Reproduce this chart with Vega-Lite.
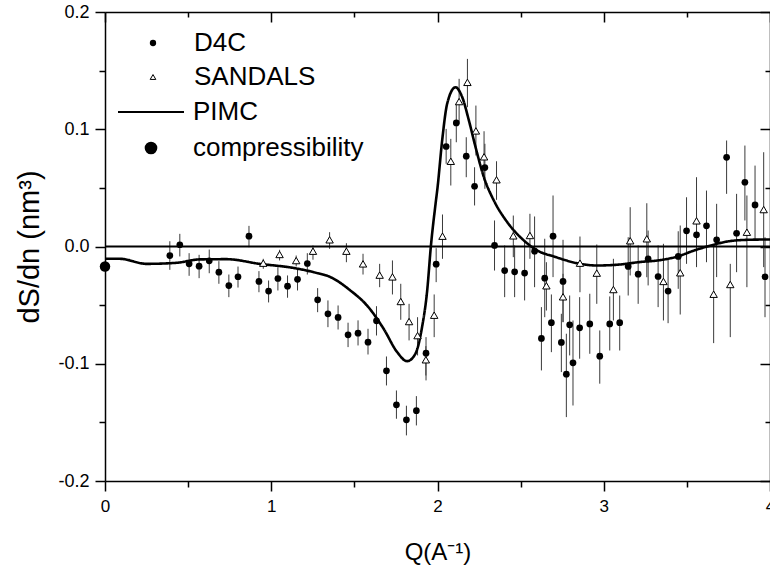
{
  "$schema": "https://vega.github.io/schema/vega-lite/v6.json",
  "width": 665,
  "height": 469,
  "autosize": {"type": "none"},
  "padding": {"left": 105, "top": 12, "right": 0, "bottom": 90},
  "background": "white",
  "config": {
    "view": {"stroke": null},
    "font": "Liberation Sans",
    "axis": {
      "grid": false,
      "domainColor": "black",
      "tickColor": "black",
      "labelColor": "black",
      "titleColor": "black",
      "labelFont": "Liberation Sans",
      "titleFont": "Liberation Sans",
      "titleFontWeight": "normal",
      "domainWidth": 1.5,
      "tickWidth": 1.5,
      "labelOverlap": false,
      "labelFlush": false
    },
    "legend": {
      "orient": "none",
      "title": null,
      "padding": 0,
      "labelFont": "Liberation Sans",
      "labelFontSize": 26,
      "labelColor": "black",
      "labelLimit": 400
    }
  },
  "datasets": {
    "d4c": [
      {"Q": 0.39, "v": -0.0077, "lo": -0.0199, "hi": 0.0045, "series": "D4C"},
      {"Q": 0.45, "v": 0.0015, "lo": -0.0085, "hi": 0.0108, "series": "D4C"},
      {"Q": 0.506, "v": -0.0148, "lo": -0.025, "hi": -0.0057, "series": "D4C"},
      {"Q": 0.566, "v": -0.0168, "lo": -0.027, "hi": -0.0071, "series": "D4C"},
      {"Q": 0.627, "v": -0.0122, "lo": -0.0228, "hi": -0.0026, "series": "D4C"},
      {"Q": 0.685, "v": -0.0219, "lo": -0.0318, "hi": -0.0125, "series": "D4C"},
      {"Q": 0.745, "v": -0.0333, "lo": -0.0432, "hi": -0.0239, "series": "D4C"},
      {"Q": 0.8, "v": -0.0258, "lo": -0.035, "hi": -0.0171, "series": "D4C"},
      {"Q": 0.866, "v": 0.0088, "lo": -0.0006, "hi": 0.0176, "series": "D4C"},
      {"Q": 0.926, "v": -0.0298, "lo": -0.039, "hi": -0.021, "series": "D4C"},
      {"Q": 0.984, "v": -0.038, "lo": -0.0477, "hi": -0.029, "series": "D4C"},
      {"Q": 1.04, "v": -0.0273, "lo": -0.0375, "hi": -0.0176, "series": "D4C"},
      {"Q": 1.098, "v": -0.0338, "lo": -0.0437, "hi": -0.0247, "series": "D4C"},
      {"Q": 1.158, "v": -0.028, "lo": -0.0375, "hi": -0.0196, "series": "D4C"},
      {"Q": 1.217, "v": -0.0145, "lo": -0.0239, "hi": -0.0057, "series": "D4C"},
      {"Q": 1.279, "v": -0.0455, "lo": -0.056, "hi": -0.0355, "series": "D4C"},
      {"Q": 1.341, "v": -0.0574, "lo": -0.0688, "hi": -0.046, "series": "D4C"},
      {"Q": 1.402, "v": -0.0605, "lo": -0.0708, "hi": -0.0503, "series": "D4C"},
      {"Q": 1.462, "v": -0.0753, "lo": -0.0858, "hi": -0.065, "series": "D4C"},
      {"Q": 1.522, "v": -0.0739, "lo": -0.0844, "hi": -0.063, "series": "D4C"},
      {"Q": 1.582, "v": -0.0816, "lo": -0.0921, "hi": -0.0702, "series": "D4C"},
      {"Q": 1.633, "v": -0.0634, "lo": -0.0759, "hi": -0.0509, "series": "D4C"},
      {"Q": 1.693, "v": -0.106, "lo": -0.1185, "hi": -0.0938, "series": "D4C"},
      {"Q": 1.753, "v": -0.135, "lo": -0.1469, "hi": -0.1228, "series": "D4C"},
      {"Q": 1.813, "v": -0.1478, "lo": -0.1611, "hi": -0.1358, "series": "D4C"},
      {"Q": 1.873, "v": -0.14, "lo": -0.1526, "hi": -0.1276, "series": "D4C"},
      {"Q": 1.931, "v": -0.091, "lo": -0.1142, "hi": -0.0773, "series": "D4C"},
      {"Q": 1.992, "v": -0.0151, "lo": -0.0304, "hi": -0.0014, "series": "D4C"},
      {"Q": 2.052, "v": 0.0853, "lo": 0.0705, "hi": 0.1003, "series": "D4C"},
      {"Q": 2.113, "v": 0.1054, "lo": 0.0889, "hi": 0.1217, "series": "D4C"},
      {"Q": 2.173, "v": 0.077, "lo": 0.0591, "hi": 0.0932, "series": "D4C"},
      {"Q": 2.223, "v": 0.0514, "lo": 0.035, "hi": 0.0676, "series": "D4C"},
      {"Q": 2.285, "v": 0.0673, "lo": 0.0492, "hi": 0.0876, "series": "D4C"},
      {"Q": 2.343, "v": 0.0009, "lo": -0.0205, "hi": 0.0222, "series": "D4C"},
      {"Q": 2.404, "v": -0.0205, "lo": -0.0432, "hi": 0.0009, "series": "D4C"},
      {"Q": 2.464, "v": -0.0216, "lo": -0.0432, "hi": 0.0009, "series": "D4C"},
      {"Q": 2.524, "v": -0.0227, "lo": -0.046, "hi": 0.0051, "series": "D4C"},
      {"Q": 2.584, "v": -0.004, "lo": -0.0347, "hi": 0.0256, "series": "D4C"},
      {"Q": 2.625, "v": -0.0784, "lo": -0.1057, "hi": -0.0517, "series": "D4C"},
      {"Q": 2.645, "v": -0.027, "lo": -0.0603, "hi": 0.0066, "series": "D4C"},
      {"Q": 2.685, "v": -0.065, "lo": -0.0901, "hi": -0.0409, "series": "D4C"},
      {"Q": 2.695, "v": 0.0088, "lo": -0.0261, "hi": 0.0435, "series": "D4C"},
      {"Q": 2.745, "v": -0.0818, "lo": -0.1071, "hi": -0.0574, "series": "D4C"},
      {"Q": 2.755, "v": -0.0298, "lo": -0.0645, "hi": 0.0057, "series": "D4C"},
      {"Q": 2.775, "v": -0.1089, "lo": -0.1455, "hi": -0.0744, "series": "D4C"},
      {"Q": 2.795, "v": -0.0668, "lo": -0.0929, "hi": -0.0418, "series": "D4C"},
      {"Q": 2.815, "v": -0.0992, "lo": -0.1356, "hi": -0.0631, "series": "D4C"},
      {"Q": 2.855, "v": -0.0694, "lo": -0.0957, "hi": -0.0432, "series": "D4C"},
      {"Q": 2.916, "v": -0.066, "lo": -0.0915, "hi": -0.0403, "series": "D4C"},
      {"Q": 2.976, "v": -0.0935, "lo": -0.117, "hi": -0.0716, "series": "D4C"},
      {"Q": 3.036, "v": -0.066, "lo": -0.0887, "hi": -0.0426, "series": "D4C"},
      {"Q": 3.096, "v": -0.065, "lo": -0.0887, "hi": -0.0418, "series": "D4C"},
      {"Q": 3.147, "v": -0.017, "lo": -0.0418, "hi": 0.0079, "series": "D4C"},
      {"Q": 3.207, "v": -0.0236, "lo": -0.0489, "hi": 0.0009, "series": "D4C"},
      {"Q": 3.267, "v": -0.0105, "lo": -0.0332, "hi": 0.0136, "series": "D4C"},
      {"Q": 3.327, "v": -0.0256, "lo": -0.0517, "hi": 0.0009, "series": "D4C"},
      {"Q": 3.387, "v": -0.038, "lo": -0.0654, "hi": -0.0105, "series": "D4C"},
      {"Q": 3.448, "v": -0.0085, "lo": -0.0361, "hi": 0.013, "series": "D4C"},
      {"Q": 3.498, "v": 0.0134, "lo": -0.0148, "hi": 0.042, "series": "D4C"},
      {"Q": 3.558, "v": 0.01, "lo": -0.0176, "hi": 0.0364, "series": "D4C"},
      {"Q": 3.618, "v": 0.0176, "lo": -0.0134, "hi": 0.0477, "series": "D4C"},
      {"Q": 3.679, "v": 0.0057, "lo": -0.0261, "hi": 0.0364, "series": "D4C"},
      {"Q": 3.739, "v": 0.0761, "lo": 0.0449, "hi": 0.0904, "series": "D4C"},
      {"Q": 3.799, "v": 0.0113, "lo": -0.0219, "hi": 0.0449, "series": "D4C"},
      {"Q": 3.849, "v": 0.0548, "lo": 0.0222, "hi": 0.0861, "series": "D4C"},
      {"Q": 3.91, "v": 0.0355, "lo": 0.0051, "hi": 0.069, "series": "D4C"},
      {"Q": 3.97, "v": -0.0258, "lo": -0.0603, "hi": 0.0079, "series": "D4C"}
    ],
    "sandals": [
      {"Q": 0.952, "v": -0.0142, "lo": -0.019, "hi": -0.0105, "series": "SANDALS"},
      {"Q": 1.05, "v": -0.0068, "lo": -0.0119, "hi": -0.0028, "series": "SANDALS"},
      {"Q": 1.15, "v": -0.012, "lo": -0.017, "hi": -0.0077, "series": "SANDALS"},
      {"Q": 1.251, "v": -0.004, "lo": -0.0113, "hi": 0.0009, "series": "SANDALS"},
      {"Q": 1.351, "v": 0.0057, "lo": -0.002, "hi": 0.0122, "series": "SANDALS"},
      {"Q": 1.452, "v": -0.004, "lo": -0.0134, "hi": 0.0028, "series": "SANDALS"},
      {"Q": 1.552, "v": -0.0148, "lo": -0.0239, "hi": -0.0062, "series": "SANDALS"},
      {"Q": 1.652, "v": -0.0244, "lo": -0.0347, "hi": -0.0148, "series": "SANDALS"},
      {"Q": 1.729, "v": -0.0259, "lo": -0.0409, "hi": -0.0119, "series": "SANDALS"},
      {"Q": 1.779, "v": -0.0469, "lo": -0.0625, "hi": -0.0318, "series": "SANDALS"},
      {"Q": 1.829, "v": -0.064, "lo": -0.0801, "hi": -0.0489, "series": "SANDALS"},
      {"Q": 1.88, "v": -0.076, "lo": -0.0929, "hi": -0.0603, "series": "SANDALS"},
      {"Q": 1.93, "v": -0.0966, "lo": -0.11, "hi": -0.085, "series": "SANDALS"},
      {"Q": 1.98, "v": -0.0586, "lo": -0.0773, "hi": -0.0409, "series": "SANDALS"},
      {"Q": 2.03, "v": 0.0088, "lo": -0.0105, "hi": 0.0273, "series": "SANDALS"},
      {"Q": 2.08, "v": 0.0727, "lo": 0.052, "hi": 0.0918, "series": "SANDALS"},
      {"Q": 2.13, "v": 0.1236, "lo": 0.1046, "hi": 0.143, "series": "SANDALS"},
      {"Q": 2.18, "v": 0.14, "lo": 0.1188, "hi": 0.16, "series": "SANDALS"},
      {"Q": 2.231, "v": 0.0986, "lo": 0.0776, "hi": 0.1202, "series": "SANDALS"},
      {"Q": 2.28, "v": 0.0765, "lo": 0.0563, "hi": 0.0983, "series": "SANDALS"},
      {"Q": 2.355, "v": 0.0569, "lo": 0.0398, "hi": 0.0727, "series": "SANDALS"},
      {"Q": 2.456, "v": 0.0091, "lo": -0.0091, "hi": 0.0264, "series": "SANDALS"},
      {"Q": 2.556, "v": 0.0094, "lo": -0.0105, "hi": 0.0279, "series": "SANDALS"},
      {"Q": 2.655, "v": -0.0335, "lo": -0.0546, "hi": -0.0134, "series": "SANDALS"},
      {"Q": 2.755, "v": -0.0429, "lo": -0.0645, "hi": -0.0233, "series": "SANDALS"},
      {"Q": 2.857, "v": -0.0142, "lo": -0.039, "hi": 0.0085, "series": "SANDALS"},
      {"Q": 2.958, "v": -0.0227, "lo": -0.0489, "hi": 0.0017, "series": "SANDALS"},
      {"Q": 3.058, "v": -0.0367, "lo": -0.0631, "hi": -0.0105, "series": "SANDALS"},
      {"Q": 3.159, "v": 0.0049, "lo": -0.0247, "hi": 0.0335, "series": "SANDALS"},
      {"Q": 3.259, "v": 0.0066, "lo": -0.0262, "hi": 0.0369, "series": "SANDALS"},
      {"Q": 3.359, "v": -0.0298, "lo": -0.0631, "hi": 0.0023, "series": "SANDALS"},
      {"Q": 3.46, "v": -0.0224, "lo": -0.058, "hi": 0.0179, "series": "SANDALS"},
      {"Q": 3.558, "v": 0.0219, "lo": -0.0162, "hi": 0.0591, "series": "SANDALS"},
      {"Q": 3.661, "v": -0.0407, "lo": -0.0824, "hi": 0.0009, "series": "SANDALS"},
      {"Q": 3.761, "v": -0.0324, "lo": -0.0773, "hi": -0.0148, "series": "SANDALS"},
      {"Q": 3.861, "v": 0.0122, "lo": -0.0347, "hi": 0.0435, "series": "SANDALS"},
      {"Q": 3.962, "v": 0.0315, "lo": -0.0176, "hi": 0.0804, "series": "SANDALS"}
    ],
    "pimc": [
      {"Q": 0.0, "v": -0.0105, "series": "PIMC"},
      {"Q": 0.09, "v": -0.0105, "series": "PIMC"},
      {"Q": 0.25, "v": -0.0148, "series": "PIMC"},
      {"Q": 0.43, "v": -0.0139, "series": "PIMC"},
      {"Q": 0.57, "v": -0.011, "series": "PIMC"},
      {"Q": 0.73, "v": -0.0108, "series": "PIMC"},
      {"Q": 0.93, "v": -0.0148, "series": "PIMC"},
      {"Q": 1.13, "v": -0.0182, "series": "PIMC"},
      {"Q": 1.255, "v": -0.0219, "series": "PIMC"},
      {"Q": 1.355, "v": -0.026, "series": "PIMC"},
      {"Q": 1.476, "v": -0.0375, "series": "PIMC"},
      {"Q": 1.576, "v": -0.0503, "series": "PIMC"},
      {"Q": 1.676, "v": -0.0702, "series": "PIMC"},
      {"Q": 1.757, "v": -0.09, "series": "PIMC"},
      {"Q": 1.817, "v": -0.0978, "series": "PIMC"},
      {"Q": 1.867, "v": -0.0915, "series": "PIMC"},
      {"Q": 1.907, "v": -0.0688, "series": "PIMC"},
      {"Q": 1.938, "v": -0.0375, "series": "PIMC"},
      {"Q": 1.96, "v": 0.0, "series": "PIMC"},
      {"Q": 1.988, "v": 0.036, "series": "PIMC"},
      {"Q": 2.0, "v": 0.05, "series": "PIMC"},
      {"Q": 2.028, "v": 0.0904, "series": "PIMC"},
      {"Q": 2.058, "v": 0.1217, "series": "PIMC"},
      {"Q": 2.108, "v": 0.1358, "series": "PIMC"},
      {"Q": 2.149, "v": 0.1273, "series": "PIMC"},
      {"Q": 2.189, "v": 0.1074, "series": "PIMC"},
      {"Q": 2.229, "v": 0.0847, "series": "PIMC"},
      {"Q": 2.279, "v": 0.0591, "series": "PIMC"},
      {"Q": 2.339, "v": 0.0392, "series": "PIMC"},
      {"Q": 2.42, "v": 0.0207, "series": "PIMC"},
      {"Q": 2.52, "v": 0.0051, "series": "PIMC"},
      {"Q": 2.6, "v": -0.0034, "series": "PIMC"},
      {"Q": 2.7, "v": -0.0085, "series": "PIMC"},
      {"Q": 2.86, "v": -0.0148, "series": "PIMC"},
      {"Q": 2.96, "v": -0.0162, "series": "PIMC"},
      {"Q": 3.1, "v": -0.0153, "series": "PIMC"},
      {"Q": 3.22, "v": -0.0132, "series": "PIMC"},
      {"Q": 3.32, "v": -0.012, "series": "PIMC"},
      {"Q": 3.444, "v": -0.0085, "series": "PIMC"},
      {"Q": 3.544, "v": -0.0034, "series": "PIMC"},
      {"Q": 3.645, "v": 0.0009, "series": "PIMC"},
      {"Q": 3.745, "v": 0.0043, "series": "PIMC"},
      {"Q": 3.865, "v": 0.0057, "series": "PIMC"},
      {"Q": 4.0, "v": 0.006, "series": "PIMC"}
    ],
    "comp": [
      {"Q": 0.0, "v": -0.017, "series": "compressibility"}
    ]
  },
  "layer": [
    {
      "data": {"name": "d4c"},
      "mark": {"type": "rule", "color": "#3a3a3a", "strokeWidth": 1},
      "encoding": {
        "x": {"field": "Q", "type": "quantitative", "scale": {"domain": [0, 4], "nice": false, "zero": false}, "axis": null},
        "y": {"field": "lo", "type": "quantitative", "scale": {"domain": [-0.2, 0.2], "nice": false, "zero": false}, "axis": null},
        "y2": {"field": "hi"}
      }
    },
    {
      "data": {"name": "sandals"},
      "mark": {"type": "rule", "color": "#3a3a3a", "strokeWidth": 1},
      "encoding": {
        "x": {"field": "Q", "type": "quantitative", "scale": {"domain": [0, 4], "nice": false, "zero": false}, "axis": null},
        "y": {"field": "lo", "type": "quantitative", "scale": {"domain": [-0.2, 0.2], "nice": false, "zero": false}, "axis": null},
        "y2": {"field": "hi"}
      }
    },
    {
      "data": {"name": "pimc"},
      "mark": {"type": "line", "color": "black", "strokeWidth": 2.6, "interpolate": "monotone"},
      "encoding": {
        "x": {"field": "Q", "type": "quantitative", "scale": {"domain": [0, 4], "nice": false, "zero": false}, "axis": null},
        "y": {"field": "v", "type": "quantitative", "scale": {"domain": [-0.2, 0.2], "nice": false, "zero": false}, "axis": null},
        "strokeDash": {
          "field": "series", "type": "nominal",
          "scale": {"domain": ["PIMC"], "range": [[1, 0]]},
          "legend": {
            "legendX": 12, "legendY": 66,
            "symbolType": "stroke",
            "symbolSize": 4356,
            "symbolStrokeWidth": 2,
            "symbolStrokeColor": "black",
            "labelOffset": 8
          }
        }
      }
    },
    {
      "data": {"name": "comp"},
      "mark": {"type": "rule", "color": "black", "strokeWidth": 1.8},
      "encoding": {
        "y": {"datum": 0, "type": "quantitative", "scale": {"domain": [-0.2, 0.2], "nice": false, "zero": false}, "axis": null}
      }
    },
    {
      "data": {"name": "d4c"},
      "mark": {"type": "point", "filled": true, "color": "black", "size": 45, "opacity": 1},
      "encoding": {
        "x": {
          "field": "Q", "type": "quantitative",
          "scale": {"domain": [0, 4], "nice": false, "zero": false},
          "axis": {
            "orient": "bottom",
            "values": [0, 0.5, 1, 1.5, 2, 2.5, 3, 3.5, 4],
            "labelExpr": "datum.value % 1 === 0 ? format(datum.value, 'd') : ''",
            "tickSize": {"condition": {"test": "datum.value % 1 === 0", "value": 10}, "value": 6},
            "labelFontSize": 17,
            "labelPadding": 7,
            "title": "Q(A\u207b\u00b9)",
            "titleFontSize": 24,
            "titlePadding": 26
          }
        },
        "y": {
          "field": "v", "type": "quantitative",
          "scale": {"domain": [-0.2, 0.2], "nice": false, "zero": false},
          "axis": {
            "orient": "left",
            "values": [-0.2, -0.15, -0.1, -0.05, 0, 0.05, 0.1, 0.15, 0.2],
            "labelExpr": "abs(round(datum.value * 20)) % 2 === 0 ? replace(format(datum.value, '.1f'), '\u2212', '-') : ''",
            "tickSize": {"condition": {"test": "abs(round(datum.value * 20)) % 2 === 0", "value": 10}, "value": 6},
            "labelFontSize": 18,
            "labelPadding": 6,
            "title": "dS/dn (nm\u00b3)",
            "titleFontSize": 29,
            "titlePadding": 13
          }
        },
        "shape": {
          "field": "series", "type": "nominal",
          "scale": {"domain": ["D4C"], "range": ["circle"]},
          "legend": {
            "legendX": 35, "legendY": 18,
            "symbolSize": 40,
            "symbolFillColor": "black",
            "symbolStrokeWidth": 0,
            "labelOffset": 28
          }
        }
      }
    },
    {
      "data": {"name": "sandals"},
      "mark": {"type": "point", "fill": "white", "stroke": "black", "strokeWidth": 1, "size": 55, "opacity": 1, "fillOpacity": 1},
      "encoding": {
        "x": {"field": "Q", "type": "quantitative", "scale": {"domain": [0, 4], "nice": false, "zero": false}, "axis": null},
        "y": {"field": "v", "type": "quantitative", "scale": {"domain": [-0.2, 0.2], "nice": false, "zero": false}, "axis": null},
        "shape": {
          "field": "series", "type": "nominal",
          "scale": {"domain": ["SANDALS"], "range": ["triangle-up"]},
          "legend": {
            "legendX": 35, "legendY": 52,
            "symbolSize": 32,
            "symbolStrokeWidth": 1,
            "labelOffset": 28
          }
        }
      }
    },
    {
      "data": {"name": "comp"},
      "mark": {"type": "point", "filled": true, "color": "black", "size": 110, "opacity": 1},
      "encoding": {
        "x": {
          "field": "Q", "type": "quantitative",
          "scale": {"domain": [0, 4], "nice": false, "zero": false},
          "axis": {
            "orient": "top",
            "values": [0, 0.5, 1, 1.5, 2, 2.5, 3, 3.5, 4],
            "labels": false,
            "title": null,
            "tickSize": {"condition": {"test": "datum.value % 1 === 0", "value": -10}, "value": -5}
          }
        },
        "y": {
          "field": "v", "type": "quantitative",
          "scale": {"domain": [-0.2, 0.2], "nice": false, "zero": false},
          "axis": {
            "orient": "right",
            "values": [-0.2, -0.15, -0.1, -0.05, 0, 0.05, 0.1, 0.15, 0.2],
            "labels": false,
            "title": null,
            "tickSize": {"condition": {"test": "abs(round(datum.value * 20)) % 2 === 0", "value": -10}, "value": -5}
          }
        },
        "shape": {
          "field": "series", "type": "nominal",
          "scale": {"domain": ["compressibility"], "range": ["circle"]},
          "legend": {
            "legendX": 33, "legendY": 123,
            "symbolSize": 160,
            "symbolFillColor": "black",
            "symbolStrokeWidth": 0,
            "labelOffset": 29
          }
        }
      }
    }
  ],
  "resolve": {
    "axis": {"x": "independent", "y": "independent"},
    "scale": {"shape": "independent"},
    "legend": {"shape": "independent"}
  }
}
